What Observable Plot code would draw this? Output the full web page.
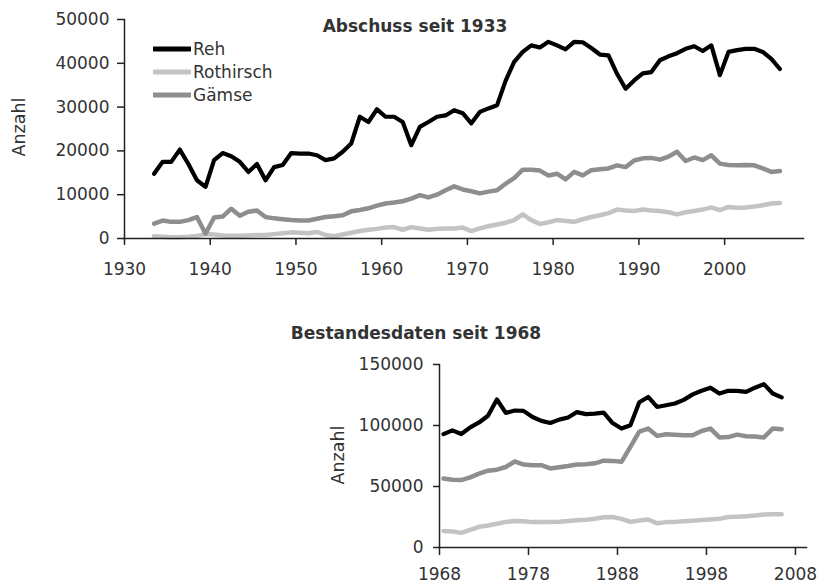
<!DOCTYPE html>
<html><head><meta charset="utf-8">
<script src="https://cdn.jsdelivr.net/npm/d3@7"></script>
<script src="https://cdn.jsdelivr.net/npm/@observablehq/plot@0.6"></script>
<style>
body{margin:0;background:#fff;}
#wrap{position:relative;width:824px;height:584px;font-family:"DejaVu Sans",sans-serif;color:#222;overflow:hidden;}
.abs{position:absolute;}
.title{font-weight:bold;font-size:17px;white-space:nowrap;transform:translateX(-50%);color:#333;}
.ylab{font-size:17.5px;white-space:nowrap;transform:translate(-50%,-50%) rotate(-90deg);color:#333;}
.leg{font-size:17px;display:flex;align-items:center;height:23px;color:#333;}
.leg svg{margin-right:2px;}
</style></head>
<body><div id="wrap"></div>
<script>
// ---- Abschuss seit 1933 (1933–2006) ----
const startAbschuss = 1933;
const rehAbschuss = [
 14800,17500,17500,20300,17000,13300,11800,17900,19500,18800,
 17500,15200,17000,13300,16300,16800,19500,19400,19400,19000,
 17900,18300,19800,21700,27800,26600,29500,27800,27800,26600,
 21300,25500,26600,27800,28100,29300,28600,26300,28900,29700,
 30400,36000,40300,42600,44100,43600,44900,44100,43200,44900,
 44800,43500,42000,41800,37600,34200,36100,37700,38000,40700,
 41600,42300,43300,43900,42800,44100,37300,42600,43000,43300,
 43300,42600,41000,38700];
const rothirschAbschuss = [
 500,400,300,300,400,600,1000,900,700,600,
 600,700,800,800,1000,1200,1400,1300,1200,1500,
 800,500,900,1300,1700,2000,2200,2500,2600,2000,
 2600,2300,2000,2200,2300,2300,2500,1700,2300,2800,
 3200,3600,4200,5500,4200,3300,3700,4200,4000,3800,
 4400,4900,5300,5800,6600,6400,6300,6600,6400,6300,
 6000,5500,6000,6300,6600,7100,6500,7200,7000,7100,
 7300,7600,8000,8100];
const gaemseAbschuss = [
 3400,4100,3800,3800,4200,4900,1100,4800,5000,6800,
 5200,6100,6400,4900,4600,4400,4200,4100,4100,4500,
 4900,5100,5300,6200,6500,6900,7500,8000,8200,8500,
 9100,9900,9400,10000,11000,11900,11200,10800,10300,10700,
 11000,12500,13800,15700,15700,15500,14400,14800,13500,15200,
 14400,15600,15800,16000,16700,16300,17800,18300,18400,18000,
 18700,19800,17700,18500,17900,19000,17100,16800,16700,16800,
 16700,16000,15200,15400];
const ticksX1 = [1930,1940,1950,1960,1970,1980,1990,2000];
const ticksY1 = [0,10000,20000,30000,40000,50000];

// ---- Bestandesdaten seit 1968 (1968–2006) ----
const startBestand = 1968;
const rehBestand = [
 92900,96000,93000,98500,102500,108000,121300,110300,112300,112000,
 107000,103800,102100,104800,106500,111000,109300,109800,110500,102000,
 97500,100200,119000,123400,115200,116600,118000,121000,125500,128500,
 131000,126200,128400,128400,127500,131000,133900,126200,123000];
const rothirschBestand = [
 13500,13200,12000,14500,17000,18000,19500,21000,21800,21500,
 20800,20800,21000,21200,21800,22400,22800,23500,24800,25000,
 23500,21000,22200,23000,19800,20800,21000,21500,22000,22500,
 23000,23500,25000,25300,25700,26300,27000,27300,27300];
const gaemseBestand = [
 56500,55500,55300,57500,60500,63000,63800,66000,70500,68000,
 67500,67500,64800,65800,66800,68000,68300,69000,71200,71000,
 70200,82500,95000,97500,91500,92800,92500,92000,92000,95500,
 97500,90200,90500,92500,91200,91000,90200,97500,97000];
const ticksX2 = [1968,1978,1988,1998,2008];
const ticksY2 = [0,50000,100000,150000];

const seriesNames = ["Reh","Rothirsch","Gämse"];
const seriesColors = {"Reh":"#000000","Rothirsch":"#c3c3c3","Gämse":"#8e8e8e"};
const seriesWidths = {"Reh":4.2,"Rothirsch":4.5,"Gämse":4.5};
const catOffset = 0.45; // points sit mid-category as in the original

function toRows(start, arr){ return arr.map((v,i)=>({year:start+i, value:v})); }

function chart(cfg){
  const sets = {"Reh":cfg.reh,"Rothirsch":cfg.rot,"Gämse":cfg.gae};
  const order = ["Rothirsch","Gämse","Reh"];
  return Plot.plot({
    width: 824, height: cfg.height,
    marginLeft: cfg.ml, marginRight: cfg.mr, marginTop: cfg.mt, marginBottom: cfg.mb,
    x: {domain: cfg.xdom},
    y: {domain: cfg.ydom},
    style: {fontFamily: '"DejaVu Sans", sans-serif', fontSize: "17px", color: "#333", background: "transparent", overflow: "visible"},
    marks: [
      ...order.map(s => Plot.lineY(toRows(cfg.start, sets[s]), {
        x: d => d.year + catOffset, y: "value",
        stroke: seriesColors[s], strokeWidth: seriesWidths[s], strokeLinejoin: "round", curve: "linear"})),
      Plot.axisY({ticks: cfg.yt, tickSize: cfg.yts, tickPadding: cfg.ytp, tickFormat: d3.format("d"), label: null, stroke: "#222", strokeWidth: 1.5, strokeOpacity: 1}),
      Plot.axisX({ticks: cfg.xt, tickSize: cfg.xts, tickPadding: cfg.xtp, tickFormat: d3.format("d"), label: null, stroke: "#222", strokeWidth: 1.5, strokeOpacity: 1}),
      Plot.frame({anchor: "left", stroke: "#222", strokeWidth: 1.5}),
      Plot.frame({anchor: "bottom", stroke: "#222", strokeWidth: 1.5})
    ]
  });
}

const wrap = document.getElementById("wrap");

const top1 = chart({start: startAbschuss, reh: rehAbschuss, rot: rothirschAbschuss, gae: gaemseAbschuss,
  height: 285, ml: 124, mr: 21, mt: 19, mb: 47, xdom: [1930, 2009.2], ydom: [0, 50000],
  xt: ticksX1, yt: ticksY1, yts: 7, ytp: 8, xts: 7, xtp: 17});
top1.classList.add("abs"); top1.style.left = "0px"; top1.style.top = "0px";
wrap.appendChild(top1);

const bot = chart({start: startBestand, reh: rehBestand, rot: rothirschBestand, gae: gaemseBestand,
  height: 260, ml: 439, mr: 18, mt: 40, mb: 37, xdom: [1968, 2009.24], ydom: [0, 150000],
  xt: ticksX2, yt: ticksY2, yts: 6, ytp: 10, xts: 8, xtp: 12});
bot.classList.add("abs"); bot.style.left = "0px"; bot.style.top = "324px";
wrap.appendChild(bot);

function addDiv(cls, text, left, top){
  const d = document.createElement("div");
  d.className = "abs " + cls; d.textContent = text;
  d.style.left = left + "px"; d.style.top = top + "px";
  wrap.appendChild(d); return d;
}
addDiv("title", "Abschuss seit 1933", 415, 16);
addDiv("title", "Bestandesdaten seit 1968", 416, 323);
addDiv("ylab", "Anzahl", 19, 127);
addDiv("ylab", "Anzahl", 338, 455);

// legend
const leg = document.createElement("div");
leg.className = "abs"; leg.style.left = "153px"; leg.style.top = "37px";
seriesNames.forEach(s => {
  const row = document.createElement("div"); row.className = "leg";
  row.innerHTML = `<svg width="38" height="8"><line x1="1" y1="4" x2="37" y2="4" stroke="${seriesColors[s]}" stroke-width="5" stroke-linecap="round"/></svg><span>${s}</span>`;
  leg.appendChild(row);
});
wrap.appendChild(leg);
</script></body></html>
